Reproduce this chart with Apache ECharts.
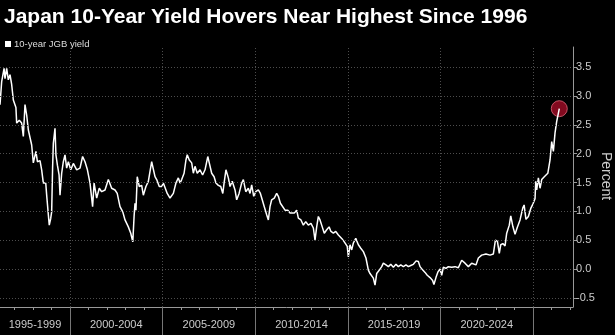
<!DOCTYPE html>
<html><head><meta charset="utf-8">
<script src="https://cdn.jsdelivr.net/npm/echarts@6/dist/echarts.min.js"></script>
<style>html,body{margin:0;padding:0;background:#000;}#c{width:615px;height:335px;}</style>
</head><body><div id="c"></div>
<script>
const chartTitle = 'Japan 10-Year Yield Hovers Near Highest Since 1996';
const seriesName = '10-year JGB yield';
const yAxisName = 'Percent';
const periods = ['1995-1999','2000-2004','2005-2009','2010-2014','2015-2019','2020-2024'];
const yTicks = [-0.5, 0, 0.5, 1, 1.5, 2, 2.5, 3, 3.5];
const xStart = 1996.22, xEnd = 2027.16;
const yMin = -0.66, yMax = 3.85;

// dates as decimal years
const dates = [
1996.22,1996.31,1996.44,1996.49,1996.58,1996.67,1996.76,1996.85,1996.94,1997.08,
1997.12,1997.26,1997.39,1997.48,1997.57,1997.66,1997.75,1997.93,1998.02,1998.16,
1998.24,1998.38,1998.47,1998.56,1998.69,1998.74,1998.83,1998.88,1998.96,1999.01,
1999.06,1999.10,1999.19,1999.24,1999.32,1999.41,1999.46,1999.55,1999.64,1999.73,
1999.82,1999.91,2000.04,2000.18,2000.36,2000.54,2000.68,2000.81,2000.94,2001.08,
2001.22,2001.30,2001.44,2001.58,2001.71,2001.89,2002.07,2002.16,2002.25,2002.31,
2002.43,2002.55,2002.70,2002.85,2002.97,2003.15,2003.28,2003.39,2003.46,2003.51,
2003.56,2003.63,2003.74,2003.87,2003.96,2004.10,2004.23,2004.32,2004.41,2004.50,
2004.59,2004.68,2004.82,2004.95,2005.04,2005.13,2005.25,2005.40,2005.49,2005.58,
2005.72,2005.85,2005.94,2006.03,2006.16,2006.26,2006.33,2006.44,2006.57,2006.66,
2006.75,2006.87,2007.02,2007.16,2007.29,2007.44,2007.52,2007.65,2007.78,2007.88,
2008.01,2008.14,2008.25,2008.32,2008.42,2008.55,2008.64,2008.76,2008.91,2009.00,
2009.13,2009.27,2009.36,2009.49,2009.63,2009.72,2009.81,2009.92,2010.03,2010.17,
2010.28,2010.38,2010.49,2010.62,2010.71,2010.80,2010.89,2011.03,2011.16,2011.25,
2011.36,2011.46,2011.61,2011.76,2011.88,2011.97,2012.11,2012.24,2012.33,2012.47,
2012.60,2012.73,2012.87,2013.01,2013.14,2013.23,2013.32,2013.41,2013.50,2013.62,
2013.73,2013.86,2013.99,2014.09,2014.22,2014.35,2014.49,2014.67,2014.81,2014.97,
2015.03,2015.12,2015.21,2015.30,2015.43,2015.57,2015.70,2015.84,2015.98,2016.11,
2016.20,2016.29,2016.38,2016.47,2016.56,2016.70,2016.83,2016.92,2017.06,2017.19,
2017.32,2017.46,2017.60,2017.73,2017.86,2018.00,2018.14,2018.27,2018.40,2018.54,
2018.69,2018.81,2018.90,2019.05,2019.17,2019.29,2019.44,2019.58,2019.65,2019.76,
2019.87,2019.98,2020.07,2020.16,2020.30,2020.43,2020.61,2020.79,2020.97,2021.15,
2021.33,2021.51,2021.69,2021.92,2022.05,2022.23,2022.46,2022.68,2022.86,2022.97,
2023.08,2023.18,2023.26,2023.37,2023.49,2023.58,2023.72,2023.80,2023.91,2024.03,
2024.15,2024.30,2024.45,2024.52,2024.62,2024.75,2024.88,2025.00,2025.11,2025.15,
2025.20,2025.29,2025.38,2025.47,2025.61,2025.80,2025.92,2026.01,2026.10,2026.19,
2026.28,2026.35,2026.42
];
const yields = [
2.85,3.25,3.48,3.30,3.48,3.28,3.37,3.20,2.93,2.80,
2.53,2.58,2.53,2.30,2.85,2.67,2.41,2.15,1.84,2.04,
1.86,1.88,1.72,1.49,1.49,1.28,0.94,0.76,0.88,0.99,
1.75,2.18,2.44,1.98,1.80,1.63,1.28,1.66,1.86,1.98,
1.75,1.86,1.72,1.83,1.72,1.75,1.95,1.86,1.72,1.49,
1.08,1.49,1.23,1.40,1.34,1.37,1.55,1.52,1.40,1.43,
1.37,1.31,1.08,0.99,0.85,0.73,0.62,0.47,0.91,1.14,
1.02,1.60,1.43,1.45,1.28,1.43,1.52,1.49,1.86,1.89,
1.60,1.55,1.43,1.43,1.49,1.52,1.31,1.23,1.20,1.31,
1.49,1.58,1.49,1.55,1.66,1.89,1.98,1.89,1.84,1.66,
1.78,1.66,1.72,1.63,1.72,1.95,1.84,1.66,1.60,1.49,
1.45,1.43,1.31,1.49,1.72,1.58,1.43,1.52,1.37,1.20,
1.31,1.49,1.55,1.34,1.40,1.31,1.46,1.26,1.34,1.37,
1.31,1.20,1.08,0.94,0.85,1.08,1.20,1.23,1.31,1.26,
1.14,1.11,1.02,1.02,0.97,0.99,0.97,1.02,0.88,0.85,
0.76,0.82,0.76,0.79,0.71,0.50,0.73,0.91,0.85,0.73,
0.62,0.68,0.73,0.65,0.62,0.65,0.59,0.53,0.47,0.39,
0.21,0.42,0.33,0.45,0.53,0.42,0.36,0.30,0.19,-0.02,
-0.08,-0.11,-0.16,-0.28,-0.08,-0.02,0.04,0.10,0.07,0.04,
0.08,0.03,0.08,0.04,0.07,0.04,0.07,0.04,0.06,0.08,
0.14,0.13,0.04,-0.02,-0.06,-0.11,-0.15,-0.20,-0.27,-0.15,
-0.05,0.00,-0.11,0.03,0.01,0.04,0.03,0.04,0.02,0.15,
0.10,0.04,0.10,0.07,0.19,0.24,0.26,0.24,0.26,0.50,
0.48,0.27,0.42,0.44,0.40,0.62,0.76,0.92,0.74,0.60,
0.72,0.85,1.06,1.11,0.86,0.91,1.05,1.13,1.22,1.52,
1.37,1.58,1.40,1.55,1.60,1.66,1.89,2.21,2.04,2.36,
2.56,2.67,2.78
];

const data = dates.map((d, i) => [d, yields[i]]);
const last = data[data.length - 1];
const periodStart = periods.map(p => +p.split('-')[0]);
const periodEnd = periods.map(p => +p.split('-')[1] + 1);
const separators = periodEnd.slice();
const labelCenters = periods.map((p, i) => (Math.max(periodStart[i], xStart) + Math.min(periodEnd[i], xEnd)) / 2);
const yearTicks = [];
for (let y = Math.ceil(xStart); y <= Math.floor(xEnd); y++) yearTicks.push(y);

const FONT = '"Liberation Sans", Arial, sans-serif';
const gridTop = 47, gridBottom = 28;
const grid = {left: 0, right: 42, top: gridTop, bottom: gridBottom, containLabel: false, outerBoundsMode: 'none'};
const gridH = 335 - gridTop - gridBottom;
const dotted = {color: '#4d4d4d', width: 1, type: [1, 2]};

const chart = echarts.init(document.getElementById('c'), null, {renderer: 'canvas'});
chart.setOption({
  backgroundColor: '#000',
  animation: false,
  textStyle: {fontFamily: FONT},
  title: {text: chartTitle, left: -1, top: 2, textStyle: {color: '#fff', fontSize: 21, fontWeight: 'bold', fontFamily: FONT}},
  legend: {data: [seriesName], left: 0, top: 34, icon: 'rect', itemWidth: 6, itemHeight: 6, itemGap: 4,
    textStyle: {color: '#ddd', fontSize: 9.5, fontFamily: FONT, padding: [0, 0, 0, -2]}},
  grid: grid,
  graphic: [{
    type: 'text', x: 599, y: 152, rotation: -Math.PI / 2, silent: true,
    style: {text: yAxisName, fill: '#ccc', font: '14px ' + FONT, textAlign: 'left', textVerticalAlign: 'bottom'}
  }],
  xAxis: [{
    type: 'value', min: xStart, max: xEnd, position: 'bottom',
    axisLine: {show: true, onZero: false, lineStyle: {color: '#999', width: 1}},
    axisTick: {show: true, customValues: yearTicks, length: 3, lineStyle: {color: '#999'}},
    axisLabel: {show: true, customValues: labelCenters, color: '#ccc', fontSize: 11, margin: 12,
      formatter: v => { let k = 0, best = 1e9; labelCenters.forEach((c, i) => { if (Math.abs(c - v) < best) { best = Math.abs(c - v); k = i; } }); return periods[k]; }},
    splitLine: {show: false}
  }, {
    type: 'value', min: xStart, max: xEnd, position: 'top', offset: -gridH,
    axisLine: {show: false, onZero: false},
    axisTick: {show: true, inside: true, customValues: separators, length: 30, lineStyle: {color: '#777'}},
    axisLabel: {show: false},
    splitLine: {show: false}
  }],
  yAxis: {
    type: 'value', min: yMin, max: yMax, position: 'right',
    axisLine: {show: true, onZero: false, lineStyle: {color: '#999'}},
    axisTick: {show: true, customValues: yTicks, length: 4, lineStyle: {color: '#999'}},
    axisLabel: {show: true, customValues: yTicks, color: '#ccc', fontSize: 11, margin: 3, formatter: v => v.toFixed(1)},
    splitLine: {show: false}
  },
  series: [{
    type: 'line', name: 'grid', data: [], silent: true, z: 1,
    markLine: {silent: true, symbol: ['none', 'none'], label: {show: false}, lineStyle: dotted, animation: false,
      data: separators.map(v => ({xAxis: v})).concat(yTicks.map(v => ({yAxis: v})))}
  }, {
    type: 'scatter', data: [last], symbolSize: 16, z: 3, silent: true,
    itemStyle: {color: 'rgba(185,14,44,0.88)', borderColor: '#e0667a', borderWidth: 1}
  }, {
    type: 'line', name: seriesName, data: data, showSymbol: false, z: 4,
    lineStyle: {color: '#fff', width: 1.5}, itemStyle: {color: '#fff'}
  }]
});
</script></body></html>
